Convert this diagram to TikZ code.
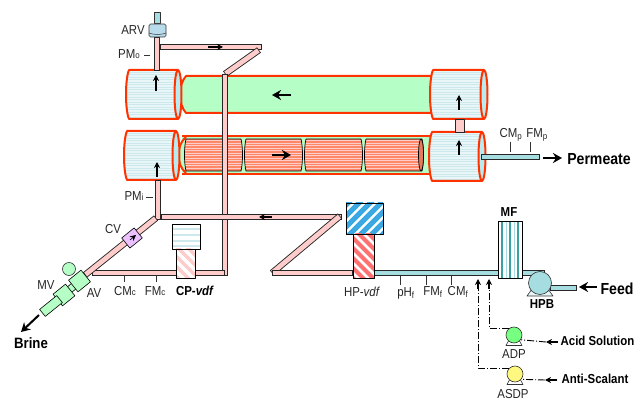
\documentclass[tikz,border=0pt]{standalone}
\usepackage{fontspec}
\setmainfont{Liberation Sans}[FakeStretch=0.88]
\usetikzlibrary{arrows.meta}
\begin{document}
\begin{tikzpicture}[x=1pt, y=-1pt, line cap=butt, line join=round, >=stealth]
\definecolor{shellred}{HTML}{FF3300}
\definecolor{brinegreen}{HTML}{B5FFC6}
\definecolor{pipepink}{HTML}{FFCCCC}
\definecolor{pipeteal}{HTML}{A6DDE0}
\definecolor{headblue}{HTML}{E8F6F8}
\definecolor{headline}{HTML}{CDE9EE}
\definecolor{rodred}{HTML}{FF8866}
\definecolor{checkviolet}{HTML}{EBC2FF}
\tikzset{
    pipe/.style={draw=#1, line width=4.8pt, shorten >=.8pt, shorten <=.8pt,
        preaction={draw=black!85, line width=6.6pt, shorten >=0pt, shorten <=0pt}},
    pipe/.default=pipepink,
    flow/.style={draw=black, line width=1.1pt, -{Stealth[length=6pt,width=6pt]}},
    bigflow/.style={draw=black, line width=2pt, -{Stealth[length=9pt,width=10pt]}},
    feedline/.style={draw=black, line width=0.9pt, dash pattern=on 7pt off 2pt on 1pt off 2pt},
    tick/.style={draw=black!80, line width=0.6pt},
    txt/.style={font=\fontsize{13}{14}\selectfont, text=black!85, inner sep=0pt},
    boldtxt/.style={font=\fontsize{13}{14}\selectfont\bfseries, inner sep=0pt},
    bigtxt/.style={font=\fontsize{16}{17}\selectfont\bfseries, inner sep=0pt},
    valve/.style={draw=black, fill=brinegreen, line width=0.6pt, rotate=39, inner sep=0pt},
    pump/.style={circle, draw=black!80, line width=0.6pt, inner sep=0pt, minimum size=#1},
    pics/header/.style={code={
        \begin{scope}
        \clip (4,0) -- (#1-4,0) -- (#1-4,49) -- (4,49) .. controls (0,40) and (0,9) .. (4,0);
        \fill[headblue] (0,0) rectangle (#1,49);
        \foreach \s in {2,4.5,...,47} \draw[headline, line width=0.7pt] (0,\s) -- (#1,\s);
        \end{scope}
        \draw[shellred, line width=2pt] (#1-4,0) -- (4,0) .. controls (0,9) and (0,40) .. (4,49) -- (#1-4,49);
        \draw[shellred, fill=headline!90!cyan, line width=2pt] (#1-4,24.5) ellipse [x radius=3.5, y radius=24.5];
    }},
    pics/rod/.style={code={
        \begin{scope}
        \clip (2,0) -- (#1-2,0) .. controls (#1,8) and (#1,24) .. (#1-2,32) -- (2,32) .. controls (0,24) and (0,8) .. (2,0);
        \fill[rodred] (0,0) rectangle (#1,32);
        \foreach \s in {1.5,4,...,31} \draw[pipepink, line width=0.6pt] (0,\s) -- (#1,\s);
        \end{scope}
        \draw[black, line width=0.7pt] (2,0) -- (#1-2,0) .. controls (#1,8) and (#1,24) .. (#1-2,32) -- (2,32) .. controls (0,24) and (0,8) .. (2,0);
    }}
}
\useasboundingbox (0,0) rectangle (641,401);

\coordinate (pmtop) at (157,37);
\coordinate (pmo) at (157,71);
\coordinate (pmi) at (158,180);
\coordinate (elbow) at (158,220);
\coordinate (branchl) at (160,47);
\coordinate (branchr) at (262,47);
\coordinate (risetop) at (225,74);
\coordinate (risebot) at (225,276);
\coordinate (retl) at (161,217);
\coordinate (retr) at (342,217);
\coordinate (zigl) at (272,273);
\coordinate (zigr) at (353,273);
\coordinate (concl) at (92,273);
\coordinate (feedl) at (374,273);
\coordinate (feedr) at (545,273);
\coordinate (hpbo) at (550,288);
\coordinate (hpbi) at (577,288);
\coordinate (permi) at (481,157);
\coordinate (permo) at (540,157);
\coordinate (brinein) at (156,218);
\coordinate (brineout) at (85,275);

\fill[brinegreen] (182,137) rectangle (430,173);
\draw[shellred, line width=2pt] (182,136) -- (430,136);
\draw[shellred, line width=2pt] (182,174) -- (430,174);
\draw[shellred, fill=brinegreen, line width=2pt] (186,137) .. controls (176,145) and (176,165) .. (186,173);
\foreach \x/\w in {184/59, 244/59, 304/59, 364/60}
    \pic at (\x,139) {rod=\w};
\draw[black, fill=rodred!90!black, line width=0.7pt] (421,155) ellipse [x radius=2.5, y radius=16];

\draw[shellred, fill=brinegreen, line width=2pt] (432,76) -- (186,76) .. controls (178,85) and (178,104) .. (186,113) -- (432,113);

\pic at (125,70) {header=57};
\pic at (123,131) {header=57};
\pic at (429,70) {header=59};
\pic at (428,132) {header=58};

\draw[black!85, fill=pipepink, line width=0.8pt] (455.5,119) rectangle (464.5,132);
\draw[pipe] (pmtop) -- (pmo);
\draw[pipe] (branchl) -- (branchr);
\draw[pipe] (259,50) -- (risetop);
\draw[pipe] (risetop) -- (risebot);
\draw[pipe] (pmi) -- (elbow);
\draw[pipe] (retl) -- (retr);
\draw[pipe] (340,216) -- (zigl);
\draw[pipe] (zigl) -- (zigr);
\draw[pipe] (concl) -- (risebot |- concl);
\draw[pipe] (brinein) -- (brineout);
\draw[pipe=pipeteal] (feedl) -- (feedr);
\draw[pipe=pipeteal] (hpbo) -- (hpbi);
\draw[pipe=pipeteal] (permi) -- (permo);

\draw[flow] (208,47) -- (223,47);
\draw[flow] (272,217) -- (259,217);
\draw[flow] (156,91) -- (156,75);
\draw[flow] (157,177) -- (157,162);
\draw[flow] (459,110) -- (459,95);
\draw[flow] (459,155) -- (459,140);
\draw[bigflow] (291,95) -- (272,95);
\draw[bigflow] (272,155) -- (291,155);

\draw[black!80, fill=pipeteal, line width=0.6pt] (154,12) rectangle (160,23);
\draw[black!80, fill=cyan!12!headline, line width=0.6pt, rounded corners=1.5pt] (149,24) rectangle (166,37);
\draw[black!80, line width=0.5pt] (149,33) .. controls (154,35) and (161,35) .. (166,33);

\begin{scope}
\clip (172,224) rectangle (200,249);
\foreach \s in {229,235,241,246} \draw[headline, line width=1.6pt] (172,\s) -- (200,\s);
\end{scope}
\draw[black, line width=0.9pt] (172,224) rectangle (200,249);
\fill[white] (176,249) rectangle (195,278);
\begin{scope}
\clip (176,249) rectangle (195,278);
\foreach \s in {140,150,...,220} \draw[pipepink, line width=3.5pt] (\s,240) -- (\s+45,285);
\end{scope}
\draw[black, line width=0.9pt] (176,249) rectangle (195,278);

\begin{scope}
\clip (346,203) rectangle (383,234);
\foreach \s in {300,311,...,390} \draw[cyan!80!blue, opacity=.8, line width=5pt] (\s,240) -- (\s+45,195);
\end{scope}
\draw[black, line width=0.9pt] (346,203) rectangle (383,234);
\fill[white] (353,234) rectangle (374,278);
\begin{scope}
\clip (353,234) rectangle (374,278);
\foreach \s in {300,310,...,380} \draw[red!45!pipepink, line width=4pt] (\s,225) -- (\s+60,285);
\end{scope}
\draw[black, line width=0.9pt] (353,234) rectangle (374,278);

\fill[white] (498,221) rectangle (522,278);
\foreach \x in {502,510,518} \draw[teal!65!pipeteal, line width=2.4pt] (\x,221) -- (\x,278);
\draw[pipeteal, line width=1pt] (506,221) -- (506,278);
\draw[pipeteal, line width=1pt] (514,221) -- (514,278);
\draw[black, line width=0.7pt] (498,221) rectangle (522,278);

\draw[black!80, fill=headblue, line width=0.6pt] (532,289) -- (527,296) -- (553,296) -- (548,289) -- cycle;
\node[pump=23pt, fill=pipeteal] (hpb) at (540,283) {};
\draw[black!80, fill=white, line width=0.6pt] (509,340) -- (506,345.5) -- (522,345.5) -- (519,340) -- cycle;
\node[pump=16pt, fill=green!35!brinegreen] (adp) at (514,335) {};
\draw[black!80, fill=white, line width=0.6pt] (510,379) -- (507,384.5) -- (523,384.5) -- (520,379) -- cycle;
\node[pump=16pt, fill=yellow!50] (asdp) at (515,374) {};

\node[draw=black, fill=checkviolet, line width=0.6pt, rotate=39, inner sep=0pt,
    minimum width=16pt, minimum height=13pt] (cv) at (132,238) {};
\draw[flow, line width=.6pt] (cv.center) ++(-2,2) -- ++(6,-5);
\node[valve, minimum width=8pt, minimum height=7pt] (link) at (71.5,288) {};
\node[valve, minimum width=16pt, minimum height=15pt] (av) at (79.5,281) {};
\node[valve, minimum width=16pt, minimum height=15pt] (mv) at (64,295) {};
\node[valve, minimum width=22pt, minimum height=9pt] (outlet) at (51,306) {};
\node[circle, draw=black!80, fill=brinegreen, line width=0.6pt, inner sep=0pt, minimum size=13pt] (actuator) at (69,269) {};

\foreach \xa/\ya/\xb/\yb in {144/55.5/150/55.5, 146/197/153/197, 124/275/124/282, 156/275/156/282,
    510/142/510/152, 530/142/530/152, 400/276/400/285, 426/276/426/285, 451/276/451/285}
    \draw[tick] (\xa,\ya) -- (\xb,\yb);

\node[txt] (arvl) at (133,30) {ARV};
\node[txt] (pmol) at (129,54) {PM{\small o}};
\node[txt] (pmil) at (134,196) {PM{\small i}};
\node[txt] (cvl) at (113,229) {CV};
\node[txt] (mvl) at (46,285) {MV};
\node[txt] (avl) at (94,293) {AV};
\node[txt] (cmcl) at (125,291) {CM{\small c}};
\node[txt] (fmcl) at (155,291) {FM{\small c}};
\node[boldtxt] (cpl) at (195,291) {CP-\textit{vdf}};
\node[txt] (hpl) at (362,292) {HP-\textit{vdf}};
\node[txt] (phl) at (406,293) {pH\textsubscript{f}};
\node[txt] (fmfl) at (433,292) {FM\textsubscript{f}};
\node[txt] (cmfl) at (458,292) {CM\textsubscript{f}};
\node[txt] (cmpl) at (511,135) {CM\textsubscript{p}};
\node[txt] (fmpl) at (537,135) {FM\textsubscript{p}};
\node[boldtxt] (mfl) at (509,212) {MF};
\node[boldtxt] (hpbl) at (542,304) {HPB};
\node[txt] (adpl) at (514,354) {ADP};
\node[txt] (asdpl) at (513,394) {ASDP};
\node[boldtxt] (acid) at (597.5,341) {Acid Solution};
\node[boldtxt] (anti) at (595,379) {Anti-Scalant};
\node[bigtxt] (perm) at (599,159) {Permeate};
\node[bigtxt] (feed) at (617,289) {Feed};
\node[bigtxt, font=\fontsize{15}{16}\selectfont\bfseries] (brine) at (31,343) {Brine};

\coordinate (asdpup) at (478,279);
\coordinate (adpup) at (489,279);
\coordinate (acidin) at (546,342);
\coordinate (antiin) at (545,380);
\draw[feedline] (asdp.140) -| (478,286);
\draw[feedline] (adp.130) -| (489,286);
\draw[flow] (478,289) -- (asdpup);
\draw[flow] (489,289) -- (adpup);
\draw[feedline] (acidin) -- (adp.325);
\draw[feedline] (antiin) -- (asdp.320);
\draw[flow] (acid.west |- acidin) ++(-2,0) -- (acidin);
\draw[flow] (anti.west |- antiin) ++(-4,0) -- (antiin);
\coordinate (permtip) at (562,158);
\coordinate (feedtip) at (579,287);
\coordinate (brinetip) at (21,332);
\draw[bigflow] (543,158) -- (permtip);
\draw[bigflow] (597,287) -- (feedtip);
\draw[bigflow] (39,315) -- (brinetip);
\end{tikzpicture}
\end{document}
